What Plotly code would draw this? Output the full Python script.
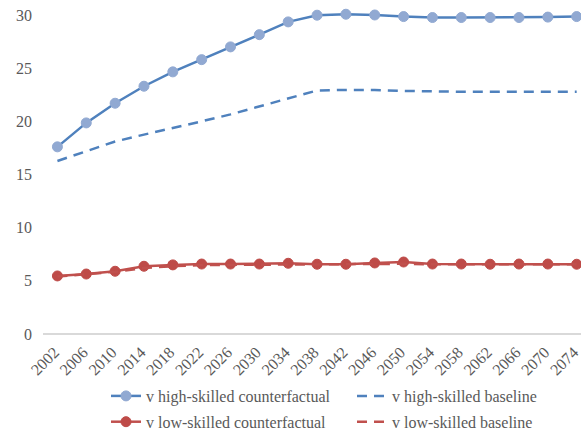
import plotly.graph_objects as go

years = [str(y) for y in range(2002, 2075, 4)]
high_cf = [17.6, 19.85, 21.7, 23.3, 24.65, 25.8, 27.0, 28.15, 29.35, 29.98, 30.07, 30.0,
           29.85, 29.76, 29.76, 29.76, 29.76, 29.8, 29.85]
high_base = [16.27, 17.15, 18.1, 18.75, 19.35, 20.0, 20.65, 21.4, 22.2, 22.9, 22.95, 22.95,
             22.86, 22.8, 22.78, 22.78, 22.78, 22.78, 22.78]
low_cf = [5.46, 5.64, 5.9, 6.37, 6.5, 6.58, 6.58, 6.58, 6.65, 6.56, 6.56, 6.68,
          6.77, 6.58, 6.58, 6.56, 6.58, 6.58, 6.56]
low_base = [5.4, 5.6, 5.85, 6.2, 6.38, 6.48, 6.5, 6.5, 6.55, 6.5, 6.52, 6.55,
            6.6, 6.55, 6.55, 6.55, 6.55, 6.55, 6.55]

BLUE = "#4F81BD"
BLUE_M = "#91A9D2"
RED = "#C0504D"
RED_M = "#BE4B48"
FONT = "Liberation Serif"
TXT = "#595959"

fig = go.Figure()
fig.add_trace(go.Scatter(x=years, y=high_cf, name="v high-skilled counterfactual",
                         mode="lines+markers", line=dict(color=BLUE, width=2.5),
                         marker=dict(size=10, color=BLUE_M, line=dict(color=BLUE_M, width=1)),
                         cliponaxis=False, legend="legend", legendgroup="a"))
fig.add_trace(go.Scatter(x=years, y=high_base, name="v high-skilled baseline",
                         mode="lines", line=dict(color=BLUE, width=2.5, dash="10px,7px"),
                         cliponaxis=False, legend="legend2", legendgroup="b"))
fig.add_trace(go.Scatter(x=years, y=low_cf, name="v low-skilled counterfactual",
                         mode="lines+markers", line=dict(color=RED, width=2.5),
                         marker=dict(size=10, color=RED_M, line=dict(color=RED_M, width=1)),
                         cliponaxis=False, legend="legend", legendgroup="c"))
fig.add_trace(go.Scatter(x=years, y=low_base, name="v low-skilled baseline",
                         mode="lines", line=dict(color=RED, width=2.5, dash="10px,7px"),
                         cliponaxis=False, legend="legend2", legendgroup="d"))

leg_common = dict(orientation="v", xref="container", yref="container",
                  xanchor="left", yanchor="top", traceorder="grouped",
                  tracegroupgap=2, itemwidth=30, bgcolor="rgba(0,0,0,0)",
                  font=dict(family=FONT, size=16, color=TXT))

fig.update_layout(
    width=581, height=431,
    margin=dict(l=43, r=0, t=12, b=97, autoexpand=False),
    paper_bgcolor="white", plot_bgcolor="white",
    font=dict(family=FONT, size=16, color=TXT),
    showlegend=True,
    legend=dict(x=106 / 581, y=1 - 379 / 431, **leg_common),
    legend2=dict(x=352 / 581, y=1 - 379 / 431, **leg_common),
    xaxis=dict(type="category", range=[-0.5, 18.15], tickangle=-45,
               showgrid=False, showline=False, zeroline=False, ticks="",
               automargin=False, ticklabelstandoff=5, ticklabelshift=-3,
               tickfont=dict(family=FONT, size=16, color=TXT)),
    yaxis=dict(range=[0, 30.28], tickvals=[0, 5, 10, 15, 20, 25, 30], showgrid=False,
               zeroline=True, zerolinecolor="#D9D9D9", zerolinewidth=1.5, showline=False,
               ticks="", automargin=False, ticklabelstandoff=10,
               tickfont=dict(family=FONT, size=16, color=TXT)),
)

fig.write_html("out.html", config={"displayModeBar": False},
               post_script="document.body.style.margin='0';document.body.style.overflow='hidden';")
